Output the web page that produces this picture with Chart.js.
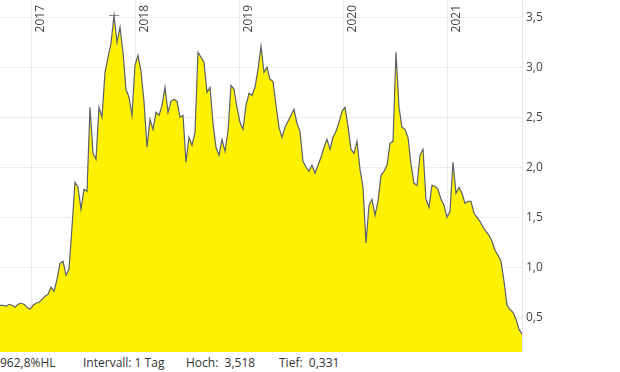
<!DOCTYPE html>
<html>
<head>
<meta charset="utf-8">
<script src="https://cdn.jsdelivr.net/npm/chart.js@4.4.0/dist/chart.umd.min.js"></script>
<style>
  body { margin: 0; background: #fff; font-family: "Open Sans", sans-serif; }
  #wrap { position: relative; width: 620px; height: 372px; }
  #chartBox { position: absolute; left: 0; top: 0; width: 620px; height: 352px; }
  #info { position: absolute; left: 0; top: 353px; width: 620px; height: 19px; font-size: 12px; color: #333; }
  #info span { position: absolute; top: 1px; white-space: pre; }
</style>
</head>
<body>
<div id="wrap">
  <div id="chartBox"><canvas id="chart" width="620" height="352"></canvas></div>
  <div id="info">
    <span style="left:0">962,8%HL</span>
    <span style="left:83px">Intervall: 1 Tag</span>
    <span style="left:186px">Hoch:  3,518</span>
    <span style="left:279px">Tief:  0,331</span>
  </div>
</div>
<script>
// price series, one value every ~10.5 days starting mid-September 2016
const startDate = '2016-09-11';
const stepDays = 10.54;
const prices = [
  0.62, 0.62, 0.61, 0.63, 0.62, 0.60, 0.63, 0.64, 0.63, 0.60, 0.58, 0.62, 0.64, 0.65, 0.68,
  0.71, 0.73, 0.80, 0.76, 0.88, 1.04, 1.06, 0.92, 0.98, 1.40, 1.85, 1.80, 1.58, 1.78,
  1.76, 2.60, 2.14, 2.08, 2.60, 2.50, 2.95, 3.10, 3.24, 3.518, 3.25, 3.40, 3.15, 2.78, 2.70,
  2.52, 3.02, 3.12, 2.96, 2.66, 2.20, 2.48, 2.38, 2.55, 2.52, 2.62, 2.80, 2.55, 2.66,
  2.68, 2.66, 2.50, 2.52, 2.05, 2.30, 2.22, 2.35, 3.15, 3.10, 3.05, 2.75, 2.80, 2.44, 2.20,
  2.12, 2.28, 2.16, 2.36, 2.82, 2.78, 2.60, 2.45, 2.38, 2.62, 2.74, 2.72, 2.80, 2.98,
  3.21, 2.95, 3.00, 2.88, 2.86, 2.62, 2.40, 2.30, 2.40, 2.46, 2.52, 2.58, 2.44, 2.36, 2.06,
  2.00, 1.96, 2.02, 1.94, 2.02, 2.10, 2.20, 2.28, 2.18, 2.30, 2.36, 2.45, 2.56, 2.60,
  2.41, 2.18, 2.14, 2.26, 1.98, 1.80, 1.24, 1.62, 1.68, 1.52, 1.66, 1.92, 1.96, 2.02, 2.24,
  2.26, 3.15, 2.60, 2.40, 2.38, 2.30, 2.03, 1.84, 1.82, 2.12, 2.18, 1.68, 1.60, 1.82,
  1.81, 1.78, 1.68, 1.62, 1.50, 1.56, 2.05, 1.74, 1.80, 1.74, 1.64, 1.66, 1.66, 1.54, 1.50,
  1.46, 1.40, 1.36, 1.32, 1.26, 1.17, 1.12, 1.06, 0.86, 0.62, 0.58, 0.55, 0.48, 0.38, 0.331
];
const yearLabels = [2017, 2018, 2019, 2020, 2021];
const yTickValues = [0.5, 1.0, 1.5, 2.0, 2.5, 3.0, 3.5];
const highValue = 3.518;
const lowValue = 0.331;

function toYear(i) {
  const t = Date.parse(startDate) + i * stepDays * 864e5;
  return 1970 + t / (365.2425 * 864e5);
}

const points = prices.map((v, i) => ({ x: toYear(i), y: v }));
const highIdx = prices.indexOf(highValue);
const lowIdx = prices.lastIndexOf(lowValue);
const markers = [
  { x: toYear(highIdx), y: highValue },
  { x: toYear(lowIdx), y: lowValue }
];

const yearLabelPlugin = {
  id: 'yearLabels',
  afterDraw(chart) {
    const ctx = chart.ctx;
    const xs = chart.scales.x;
    ctx.save();
    ctx.font = '12px "Open Sans"';
    ctx.fillStyle = '#444';
    ctx.textAlign = 'right';
    ctx.textBaseline = 'middle';
    yearLabels.forEach(yr => {
      const px = xs.getPixelForValue(yr);
      ctx.save();
      ctx.translate(px + 9, 5);
      ctx.rotate(-Math.PI / 2);
      ctx.fillText(String(yr), 0, 0);
      ctx.restore();
    });
    ctx.restore();
  }
};

new Chart(document.getElementById('chart'), {
  type: 'line',
  data: {
    datasets: [{
      data: points,
      borderColor: '#5b6169',
      borderWidth: 1.2,
      backgroundColor: '#fff200',
      fill: 'start',
      pointRadius: 0,
      tension: 0
    }, {
      type: 'scatter',
      data: markers,
      pointStyle: 'line',
      pointRadius: 5,
      borderColor: '#8a8a8a',
      borderWidth: 1
    }]
  },
  options: {
    responsive: false,
    animation: false,
    devicePixelRatio: 1,
    layout: { padding: 0, autoPadding: false },
    plugins: { legend: { display: false }, tooltip: { enabled: false } },
    scales: {
      x: {
        type: 'linear',
        position: 'top',
        z: 1,
        min: points[0].x,
        max: points[points.length - 1].x,
        afterBuildTicks: s => { s.ticks = yearLabels.map(v => ({ value: v })); },
        afterFit: s => { s.height = 0; s.paddingLeft = 0; s.paddingRight = 0; },
        ticks: { display: false },
        grid: { color: 'rgba(0,0,0,0.075)', drawTicks: false },
        border: { display: false }
      },
      y: {
        position: 'right',
        z: 1,
        min: 0.153,
        max: 3.673,
        afterBuildTicks: s => { s.ticks = yTickValues.map(v => ({ value: v })); },
        afterFit: s => { s.width = 98; s.paddingTop = 0; s.paddingBottom = 0; },
        ticks: {
          padding: 4,
          color: '#444',
          font: { family: 'Open Sans', size: 12 },
          callback: v => v.toFixed(1).replace('.', ',')
        },
        grid: { color: 'rgba(0,0,0,0.075)', drawTicks: false },
        border: { display: true, color: '#e4e4e4' }
      }
    }
  },
  plugins: [yearLabelPlugin]
});
</script>
</body>
</html>
